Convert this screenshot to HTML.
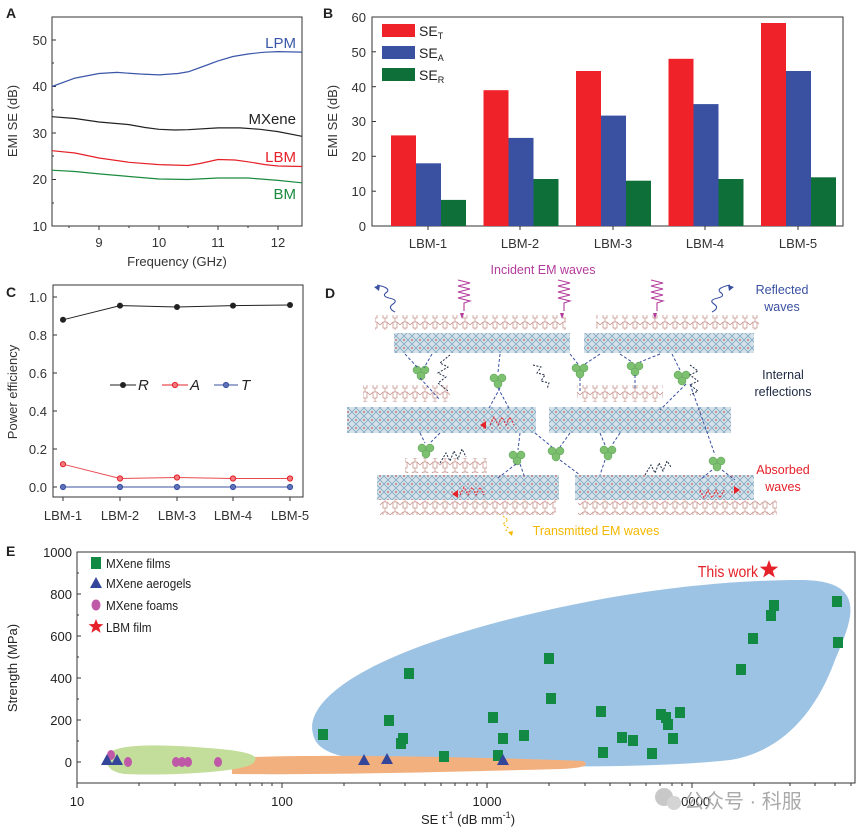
<!DOCTYPE html>
<html><head><meta charset="utf-8"><style>
html,body{margin:0;padding:0;background:#fff;}
svg{display:block;font-family:"Liberation Sans","Noto Sans CJK SC",sans-serif;}
</style></head><body>
<svg width="858" height="833" viewBox="0 0 858 833" xmlns="http://www.w3.org/2000/svg">
<defs>
<pattern id="cry" width="8" height="8" patternUnits="userSpaceOnUse">
<rect width="8" height="8" fill="#d6e2ea"/>
<path d="M0 4 L4 0 L8 4 L4 8 Z" fill="none" stroke="#7fa6c0" stroke-width="0.8"/>
<circle cx="4" cy="4" r="1" fill="#c2797a"/>
</pattern>
<pattern id="mol" width="10" height="10" patternUnits="userSpaceOnUse">
<path d="M0 5 L3 2 L7 2 L10 5 M3 2 L3 8 L7 8 L7 2 M5 0 L5 2 M5 8 L5 10" fill="none" stroke="#c89690" stroke-width="0.8"/>
</pattern>
</defs>

<!-- Panel labels -->
<g font-weight="bold" font-size="14" fill="#222">
<text x="6" y="18">A</text><text x="323" y="18">B</text>
<text x="6" y="297">C</text><text x="325" y="298">D</text>
<text x="6" y="556">E</text>
</g>

<!-- Panel A -->
<rect x="52" y="17" width="250" height="209" fill="none" stroke="#333" stroke-width="1"/>
<g stroke="#333" stroke-width="1">
<line x1="52" y1="40" x2="56" y2="40"/><line x1="52" y1="86.5" x2="56" y2="86.5"/><line x1="52" y1="133" x2="56" y2="133"/><line x1="52" y1="179.5" x2="56" y2="179.5"/>
<line x1="52" y1="63" x2="54" y2="63"/><line x1="52" y1="110" x2="54" y2="110"/><line x1="52" y1="156" x2="54" y2="156"/><line x1="52" y1="203" x2="54" y2="203"/>
<line x1="99" y1="226" x2="99" y2="230"/><line x1="159" y1="226" x2="159" y2="230"/><line x1="218" y1="226" x2="218" y2="230"/><line x1="278" y1="226" x2="278" y2="230"/>
<line x1="69" y1="226" x2="69" y2="228"/><line x1="129" y1="226" x2="129" y2="228"/><line x1="188" y1="226" x2="188" y2="228"/><line x1="248" y1="226" x2="248" y2="228"/>
</g>
<g font-size="13" fill="#333" text-anchor="end">
<text x="47" y="45">50</text><text x="47" y="91">40</text><text x="47" y="138">30</text><text x="47" y="184">20</text><text x="47" y="231">10</text>
</g>
<g font-size="13" fill="#333" text-anchor="middle">
<text x="99" y="247">9</text><text x="159" y="247">10</text><text x="218" y="247">11</text><text x="278" y="247">12</text>
<text x="177" y="266">Frequency (GHz)</text>
</g>
<text transform="translate(17,121) rotate(-90)" font-size="13" fill="#333" text-anchor="middle">EMI SE (dB)</text>
<g fill="none" stroke-width="1.2" stroke-linejoin="round">
<polyline stroke="#3a56a8" points="52,86.5 75,78.1 99,73.5 117,72.4 140,74 159,74.9 178,73.5 189,71.6 203,66.5 218,60.9 233,56.5 248,54 263,52.3 278,51.6 302,52.1"/>
<polyline stroke="#222" points="52,116.7 75,118.5 99,122 129,124.6 145,127.5 159,129.3 175,130 188,129.7 218,127.9 240,127.9 260,129.3 278,131.6 302,136.3"/>
<polyline stroke="#e52129" points="52,150.7 75,153 99,158 129,162.3 159,164.6 188,165.5 200,163.5 218,159.5 235,160 248,161.8 265,164.6 278,166 302,166.5"/>
<polyline stroke="#1a8a3f" points="52,170.2 75,171.5 99,173.9 129,176.5 159,179 188,179.5 218,178 248,178 278,180.4 302,182.8"/>
</g>
<g font-size="15" text-anchor="end">
<text x="296" y="48" fill="#3a56a8">LPM</text>
<text x="296" y="124" fill="#222">MXene</text>
<text x="296" y="162" fill="#e52129">LBM</text>
<text x="296" y="199" fill="#1a8a3f">BM</text>
</g>

<!-- Panel B -->
<rect x="372" y="17" width="471" height="209" fill="none" stroke="#333" stroke-width="1"/>
<g stroke="#333">
<line x1="372" y1="17" x2="376" y2="17"/><line x1="372" y1="51.8" x2="376" y2="51.8"/><line x1="372" y1="86.7" x2="376" y2="86.7"/><line x1="372" y1="121.5" x2="376" y2="121.5"/><line x1="372" y1="156.3" x2="376" y2="156.3"/><line x1="372" y1="191.2" x2="376" y2="191.2"/>
<line x1="428" y1="226" x2="428" y2="230"/><line x1="520" y1="226" x2="520" y2="230"/><line x1="613" y1="226" x2="613" y2="230"/><line x1="705" y1="226" x2="705" y2="230"/><line x1="798" y1="226" x2="798" y2="230"/>
</g>
<g font-size="13" fill="#333" text-anchor="end">
<text x="366" y="22">60</text><text x="366" y="57">50</text><text x="366" y="92">40</text><text x="366" y="126">30</text><text x="366" y="161">20</text><text x="366" y="196">10</text><text x="366" y="231">0</text>
</g>
<text transform="translate(337,121) rotate(-90)" font-size="13" fill="#333" text-anchor="middle">EMI SE (dB)</text>
<g font-size="13" fill="#333" text-anchor="middle">
<text x="428" y="248">LBM-1</text><text x="520" y="248">LBM-2</text><text x="613" y="248">LBM-3</text><text x="705" y="248">LBM-4</text><text x="798" y="248">LBM-5</text>
</g>
<g>
<rect x="391" y="135.4" width="25" height="90.6" fill="#ee2228"/><rect x="416" y="163.3" width="25" height="62.7" fill="#3a51a2"/><rect x="441" y="199.9" width="25" height="26.1" fill="#0f6f38"/>
<rect x="483.5" y="90.2" width="25" height="135.8" fill="#ee2228"/><rect x="508.5" y="137.9" width="25" height="88.1" fill="#3a51a2"/><rect x="533.5" y="179" width="25" height="47" fill="#0f6f38"/>
<rect x="576" y="71" width="25" height="155" fill="#ee2228"/><rect x="601" y="115.6" width="25" height="110.4" fill="#3a51a2"/><rect x="626" y="180.7" width="25" height="45.3" fill="#0f6f38"/>
<rect x="668.5" y="58.8" width="25" height="167.2" fill="#ee2228"/><rect x="693.5" y="104.1" width="25" height="121.9" fill="#3a51a2"/><rect x="718.5" y="179" width="25" height="47" fill="#0f6f38"/>
<rect x="761" y="23" width="25" height="203" fill="#ee2228"/><rect x="786" y="71" width="25" height="155" fill="#3a51a2"/><rect x="811" y="177.3" width="25" height="48.7" fill="#0f6f38"/>
</g>
<rect x="382" y="24" width="33" height="13" fill="#ee2228"/><rect x="382" y="46" width="33" height="13" fill="#3a51a2"/><rect x="382" y="68" width="33" height="13" fill="#0f6f38"/>
<g font-size="14" fill="#222">
<text x="419" y="36">SE<tspan font-size="9" dy="3">T</tspan></text>
<text x="419" y="58">SE<tspan font-size="9" dy="3">A</tspan></text>
<text x="419" y="80">SE<tspan font-size="9" dy="3">R</tspan></text>
</g>

<!-- Panel C -->
<rect x="53" y="285" width="250" height="212" fill="none" stroke="#333"/>
<g stroke="#333">
<line x1="53" y1="297" x2="57" y2="297"/><line x1="53" y1="335" x2="57" y2="335"/><line x1="53" y1="373" x2="57" y2="373"/><line x1="53" y1="411" x2="57" y2="411"/><line x1="53" y1="449" x2="57" y2="449"/><line x1="53" y1="487" x2="57" y2="487"/>
<line x1="63" y1="497" x2="63" y2="501"/><line x1="120" y1="497" x2="120" y2="501"/><line x1="177" y1="497" x2="177" y2="501"/><line x1="233" y1="497" x2="233" y2="501"/><line x1="290" y1="497" x2="290" y2="501"/>
</g>
<g font-size="13" fill="#333" text-anchor="end">
<text x="47" y="302">1.0</text><text x="47" y="340">0.8</text><text x="47" y="378">0.6</text><text x="47" y="416">0.4</text><text x="47" y="454">0.2</text><text x="47" y="492">0.0</text>
</g>
<text transform="translate(17,392) rotate(-90)" font-size="13" fill="#333" text-anchor="middle">Power efficiency</text>
<g font-size="13" fill="#333" text-anchor="middle">
<text x="63" y="520">LBM-1</text><text x="120" y="520">LBM-2</text><text x="177" y="520">LBM-3</text><text x="233" y="520">LBM-4</text><text x="290" y="520">LBM-5</text>
</g>
<polyline fill="none" stroke="#222" points="63,319.8 120,305.6 177,307 233,305.6 290,305"/>
<polyline fill="none" stroke="#e84a50" points="63,464.2 120,478.5 177,477.5 233,478.5 290,478.5"/>
<polyline fill="none" stroke="#3a51a2" points="63,487 290,487"/>
<g fill="#222"><circle cx="63" cy="319.8" r="3"/><circle cx="120" cy="305.6" r="3"/><circle cx="177" cy="307" r="3"/><circle cx="233" cy="305.6" r="3"/><circle cx="290" cy="305" r="3"/></g>
<g fill="#f07a7e" stroke="#e52129"><circle cx="63" cy="464.2" r="2.6"/><circle cx="120" cy="478.5" r="2.6"/><circle cx="177" cy="477.5" r="2.6"/><circle cx="233" cy="478.5" r="2.6"/><circle cx="290" cy="478.5" r="2.6"/></g>
<g fill="#5d72b8" stroke="#3a51a2"><circle cx="63" cy="487" r="2.6"/><circle cx="120" cy="487" r="2.6"/><circle cx="177" cy="487" r="2.6"/><circle cx="233" cy="487" r="2.6"/><circle cx="290" cy="487" r="2.6"/></g>
<line x1="110" y1="385" x2="136" y2="385" stroke="#222"/><circle cx="123" cy="385" r="3" fill="#222"/>
<line x1="162" y1="385" x2="188" y2="385" stroke="#e52129"/><circle cx="175" cy="385" r="2.6" fill="#f07a7e" stroke="#e52129"/>
<line x1="214" y1="385" x2="238" y2="385" stroke="#3a51a2"/><circle cx="226" cy="385" r="2.6" fill="#5d72b8" stroke="#3a51a2"/>
<g font-size="15" font-style="italic" fill="#222"><text x="138" y="390">R</text><text x="190" y="390">A</text><text x="241" y="390">T</text></g>

<!-- Panel D -->
<g>
<rect x="375" y="315" width="191" height="15" fill="url(#mol)"/>
<rect x="596" y="315" width="163" height="15" fill="url(#mol)"/>
<rect x="394" y="333" width="176" height="20" fill="url(#cry)"/>
<rect x="584" y="333" width="170" height="20" fill="url(#cry)"/>
<rect x="363" y="385" width="87" height="17" fill="url(#mol)"/>
<rect x="577" y="385" width="86" height="17" fill="url(#mol)"/>
<rect x="347" y="407" width="189" height="26" fill="url(#cry)"/>
<rect x="549" y="407" width="182" height="26" fill="url(#cry)"/>
<rect x="405" y="458" width="82" height="15" fill="url(#mol)"/>
<rect x="377" y="475" width="182" height="25" fill="url(#cry)"/>
<rect x="575" y="475" width="179" height="25" fill="url(#cry)"/>
<rect x="380" y="500" width="176" height="15" fill="url(#mol)"/>
<rect x="578" y="500" width="199" height="15" fill="url(#mol)"/>
</g>
<g fill="#7cc070" stroke="#5a9e55" stroke-width="0.5">
<g transform="translate(421,372)"><circle cx="-4" cy="-2" r="4"/><circle cx="4" cy="-2" r="4"/><circle cx="0" cy="4" r="4"/></g>
<g transform="translate(498,380)"><circle cx="-4" cy="-2" r="4"/><circle cx="4" cy="-2" r="4"/><circle cx="0" cy="4" r="4"/></g>
<g transform="translate(580,370)"><circle cx="-4" cy="-2" r="4"/><circle cx="4" cy="-2" r="4"/><circle cx="0" cy="4" r="4"/></g>
<g transform="translate(635,368)"><circle cx="-4" cy="-2" r="4"/><circle cx="4" cy="-2" r="4"/><circle cx="0" cy="4" r="4"/></g>
<g transform="translate(682,377)"><circle cx="-4" cy="-2" r="4"/><circle cx="4" cy="-2" r="4"/><circle cx="0" cy="4" r="4"/></g>
<g transform="translate(426,450)"><circle cx="-4" cy="-2" r="4"/><circle cx="4" cy="-2" r="4"/><circle cx="0" cy="4" r="4"/></g>
<g transform="translate(517,457)"><circle cx="-4" cy="-2" r="4"/><circle cx="4" cy="-2" r="4"/><circle cx="0" cy="4" r="4"/></g>
<g transform="translate(556,453)"><circle cx="-4" cy="-2" r="4"/><circle cx="4" cy="-2" r="4"/><circle cx="0" cy="4" r="4"/></g>
<g transform="translate(608,452)"><circle cx="-4" cy="-2" r="4"/><circle cx="4" cy="-2" r="4"/><circle cx="0" cy="4" r="4"/></g>
<g transform="translate(717,463)"><circle cx="-4" cy="-2" r="4"/><circle cx="4" cy="-2" r="4"/><circle cx="0" cy="4" r="4"/></g>
</g>
<g fill="none" stroke="#3a51a2" stroke-width="1" stroke-dasharray="3,2">
<path d="M405 354 L418 368 M432 354 L424 368 M500 354 L498 372 M570 354 L578 364 M600 354 L585 364 M620 354 L632 362 M660 354 L640 362 M672 354 L680 370 M420 378 L440 400 M500 388 L488 410 M498 388 L510 410 M580 378 L580 392 M635 375 L635 390 M686 384 L660 410 M690 384 L715 455 M420 433 L425 443 M440 433 L430 443 M520 433 L518 450 M535 433 L552 447 M570 433 L560 447 M600 433 L605 445 M620 433 L612 445 M560 460 L580 475 M605 460 L600 475 M516 464 L498 478 M520 464 L525 478 M712 470 L700 480 M722 470 L735 480"/>
</g>
<g fill="none" stroke="#b33b9c" stroke-width="1.1">
<path d="M458 280 l12 3 l-12 3 l12 3 l-12 3 l12 3 l-12 3 l12 3 l-6 2 l0 8"/>
<path d="M558 280 l12 3 l-12 3 l12 3 l-12 3 l12 3 l-12 3 l12 3 l-6 2 l0 8"/>
<path d="M651 280 l12 3 l-12 3 l12 3 l-12 3 l12 3 l-12 3 l12 3 l-6 2 l0 8"/>
</g>
<g fill="#b33b9c"><path d="M460 313 l4 0 l-2 6z"/><path d="M560 313 l4 0 l-2 6z"/><path d="M653 313 l4 0 l-2 6z"/></g>
<g fill="none" stroke="#3a51a2" stroke-width="1.1">
<path d="M395 312 q-8 -4 -2 -8 q6 -4 -4 -6 q-8 -2 -2 -6 q4 -4 -10 -7"/>
<path d="M712 312 q8 -4 2 -8 q-6 -4 4 -6 q8 -2 2 -6 q-4 -4 10 -7"/>
</g>
<g fill="#3a51a2"><path d="M374 287 l6 -2 l-1 6z"/><path d="M734 287 l-6 -2 l1 6z"/></g>
<g fill="none" stroke="#1e2a44" stroke-width="1" stroke-dasharray="2,1.5">
<path d="M450 355 l-10 8 l8 4 l-10 6 l8 4 l-8 6 l10 8"/>
<path d="M533 365 l8 2 l-4 6 l8 2 l-4 6 l8 2 l-2 6"/>
<path d="M690 365 l8 6 l-8 4 l8 6 l-8 4 l8 6 l-8 4"/>
<path d="M440 463 l6 -10 l4 8 l4 -10 l4 8 l4 -10 l4 8"/>
<path d="M645 475 l6 -10 l4 8 l4 -10 l4 8 l4 -10 l4 6"/>
</g>
<g fill="none" stroke="#e52129" stroke-width="1" stroke-dasharray="2,1.5">
<path d="M490 425 l4 -8 l4 8 l4 -8 l4 8 l4 -8 l4 8"/>
<path d="M460 495 l4 -8 l4 8 l4 -8 l4 8 l4 -8 l4 8"/>
<path d="M700 490 l4 8 l4 -8 l4 8 l4 -8 l4 8 l4 -8"/>
</g>
<g fill="#e52129"><path d="M480 425 l6 -4 l0 8z"/><path d="M452 494 l6 -4 l0 8z"/><path d="M740 490 l-6 -4 l0 8z"/></g>
<path d="M503 516 l5 4 l-5 4 l5 4 l-3 4" fill="none" stroke="#f5b800" stroke-dasharray="2,1.5"/>
<path d="M512 536 l-4 -4 l5 -1z" fill="#f5b800"/>
<g font-size="12.5">
<text x="543" y="274" text-anchor="middle" fill="#b33b9c">Incident EM waves</text>
<text x="782" y="294" text-anchor="middle" fill="#3a51a2">Reflected</text>
<text x="782" y="311" text-anchor="middle" fill="#3a51a2">waves</text>
<text x="783" y="379" text-anchor="middle" fill="#1e2a44">Internal</text>
<text x="783" y="396" text-anchor="middle" fill="#1e2a44">reflections</text>
<text x="783" y="474" text-anchor="middle" fill="#e52129">Absorbed</text>
<text x="783" y="491" text-anchor="middle" fill="#e52129">waves</text>
<text x="596" y="535" text-anchor="middle" fill="#f5b800">Transmitted EM waves</text>
</g>

<!-- Panel E -->
<path d="M313 734 C305 705 350 665 470 630 C600 592 720 580 800 580 C870 580 852 620 835 660 C815 715 780 752 730 760 C640 770 470 767 370 760 C330 757 316 748 313 734 Z" fill="#9dc3e4"/>
<path d="M232 758 C300 754 450 756 583 761 C590 765 585 768 560 769 C450 772 320 775 232 774 Z" fill="#f3b07f"/>
<path d="M108 755 C115 742 170 744 230 750 C250 753 262 756 252 764 C240 772 170 776 125 774 C108 772 104 763 108 755 Z" fill="#c3dd9b"/>
<rect x="77" y="552" width="778" height="231" fill="none" stroke="#333"/>
<g stroke="#333">
<line x1="77" y1="552" x2="81" y2="552"/><line x1="77" y1="594" x2="81" y2="594"/><line x1="77" y1="636" x2="81" y2="636"/><line x1="77" y1="678" x2="81" y2="678"/><line x1="77" y1="720" x2="81" y2="720"/><line x1="77" y1="762" x2="81" y2="762"/>
<line x1="77" y1="573" x2="79" y2="573"/><line x1="77" y1="615" x2="79" y2="615"/><line x1="77" y1="657" x2="79" y2="657"/><line x1="77" y1="699" x2="79" y2="699"/><line x1="77" y1="741" x2="79" y2="741"/>
<line x1="77" y1="783" x2="77" y2="788"/><line x1="282" y1="783" x2="282" y2="788"/><line x1="487" y1="783" x2="487" y2="788"/><line x1="692" y1="783" x2="692" y2="788"/>
<line x1="139" y1="783" x2="139" y2="786"/><line x1="175" y1="783" x2="175" y2="786"/><line x1="200" y1="783" x2="200" y2="786"/><line x1="220" y1="783" x2="220" y2="786"/><line x1="236" y1="783" x2="236" y2="786"/><line x1="250" y1="783" x2="250" y2="786"/><line x1="262" y1="783" x2="262" y2="786"/><line x1="272" y1="783" x2="272" y2="786"/>
<line x1="344" y1="783" x2="344" y2="786"/><line x1="380" y1="783" x2="380" y2="786"/><line x1="405" y1="783" x2="405" y2="786"/><line x1="425" y1="783" x2="425" y2="786"/><line x1="441" y1="783" x2="441" y2="786"/><line x1="455" y1="783" x2="455" y2="786"/><line x1="467" y1="783" x2="467" y2="786"/><line x1="477" y1="783" x2="477" y2="786"/>
<line x1="549" y1="783" x2="549" y2="786"/><line x1="585" y1="783" x2="585" y2="786"/><line x1="610" y1="783" x2="610" y2="786"/><line x1="630" y1="783" x2="630" y2="786"/><line x1="646" y1="783" x2="646" y2="786"/><line x1="660" y1="783" x2="660" y2="786"/><line x1="672" y1="783" x2="672" y2="786"/><line x1="682" y1="783" x2="682" y2="786"/>
<line x1="754" y1="783" x2="754" y2="786"/><line x1="790" y1="783" x2="790" y2="786"/><line x1="815" y1="783" x2="815" y2="786"/><line x1="835" y1="783" x2="835" y2="786"/><line x1="851" y1="783" x2="851" y2="786"/>
</g>
<g font-size="13" fill="#222" text-anchor="end">
<text x="72" y="557">1000</text><text x="72" y="599">800</text><text x="72" y="641">600</text><text x="72" y="683">400</text><text x="72" y="725">200</text><text x="72" y="767">0</text>
</g>
<g font-size="13" fill="#222" text-anchor="middle">
<text x="77" y="806">10</text><text x="282" y="806">100</text><text x="487" y="806">1000</text><text x="692" y="806">10000</text>
<text x="468" y="824">SE t<tspan font-size="9" dy="-6">-1</tspan><tspan dy="6"> (dB mm</tspan><tspan font-size="9" dy="-6">-1</tspan><tspan dy="6">)</tspan></text>
</g>
<text transform="translate(17,668) rotate(-90)" font-size="13" fill="#222" text-anchor="middle">Strength (MPa)</text>
<g fill="#138a44">
<rect x="318" y="729" width="10" height="11"/><rect x="404" y="668" width="10" height="11"/><rect x="384" y="715" width="10" height="11"/><rect x="398" y="733" width="10" height="11"/><rect x="396" y="738" width="10" height="11"/><rect x="439" y="751" width="10" height="11"/><rect x="488" y="712" width="10" height="11"/><rect x="498" y="733" width="10" height="11"/><rect x="493" y="750" width="10" height="11"/><rect x="544" y="653" width="10" height="11"/><rect x="546" y="693" width="10" height="11"/><rect x="519" y="730" width="10" height="11"/><rect x="596" y="706" width="10" height="11"/><rect x="598" y="747" width="10" height="11"/><rect x="617" y="732" width="10" height="11"/><rect x="628" y="735" width="10" height="11"/><rect x="647" y="748" width="10" height="11"/><rect x="656" y="709" width="10" height="11"/><rect x="661" y="712" width="10" height="11"/><rect x="663" y="719" width="10" height="11"/><rect x="668" y="733" width="10" height="11"/><rect x="675" y="707" width="10" height="11"/><rect x="736" y="664" width="10" height="11"/><rect x="748" y="633" width="10" height="11"/><rect x="766" y="610" width="10" height="11"/><rect x="769" y="600" width="10" height="11"/><rect x="832" y="596" width="10" height="11"/><rect x="833" y="637" width="10" height="11"/>
</g>
<g fill="#c058a8">
<ellipse cx="111" cy="755" rx="4" ry="5"/><ellipse cx="128" cy="762" rx="4" ry="5"/><ellipse cx="176" cy="762" rx="4" ry="5"/><ellipse cx="182" cy="762" rx="4" ry="5"/><ellipse cx="188" cy="762" rx="4" ry="5"/><ellipse cx="218" cy="762" rx="4" ry="5"/>
</g>
<g fill="#34469a">
<path d="M101 765 l6 -11 l6 11z"/><path d="M111 765 l6 -11 l6 11z"/><path d="M358 765 l6 -11 l6 11z"/><path d="M381 764 l6 -11 l6 11z"/><path d="M497 765 l6 -11 l6 11z"/>
</g>
<path d="M769 560 l2.4 6.5 l6.8 0.2 l-5.4 4.2 l2 6.6 l-5.8 -3.9 l-5.8 3.9 l2 -6.6 l-5.4 -4.2 l6.8 -0.2z" fill="#e52129"/>
<text x="758" y="577" font-size="16" fill="#e52129" text-anchor="end" transform="translate(758,0) scale(0.88,1) translate(-758,0)">This work</text>
<rect x="91" y="557" width="10" height="12" fill="#138a44"/>
<path d="M90 588 l6 -11 l6 11z" fill="#34469a"/>
<ellipse cx="96" cy="605" rx="4.5" ry="5.5" fill="#c058a8"/>
<path d="M96 619 l2 5 l5.4 0.2 l-4.3 3.4 l1.6 5.3 l-4.7 -3.1 l-4.7 3.1 l1.6 -5.3 l-4.3 -3.4 l5.4 -0.2z" fill="#e52129"/>
<g font-size="13" fill="#222" transform="translate(106,0) scale(0.9,1) translate(-106,0)">
<text x="106" y="568">MXene films</text><text x="106" y="588">MXene aerogels</text><text x="106" y="610">MXene foams</text><text x="106" y="632">LBM film</text>
</g>
<circle cx="664" cy="797" r="9" fill="#c8c8c8"/><circle cx="674" cy="803" r="7" fill="#d4d4d4"/>
<text x="684" y="808" font-size="20" fill="#aaa">公众号 · 科服</text>
</svg>
</body></html>
